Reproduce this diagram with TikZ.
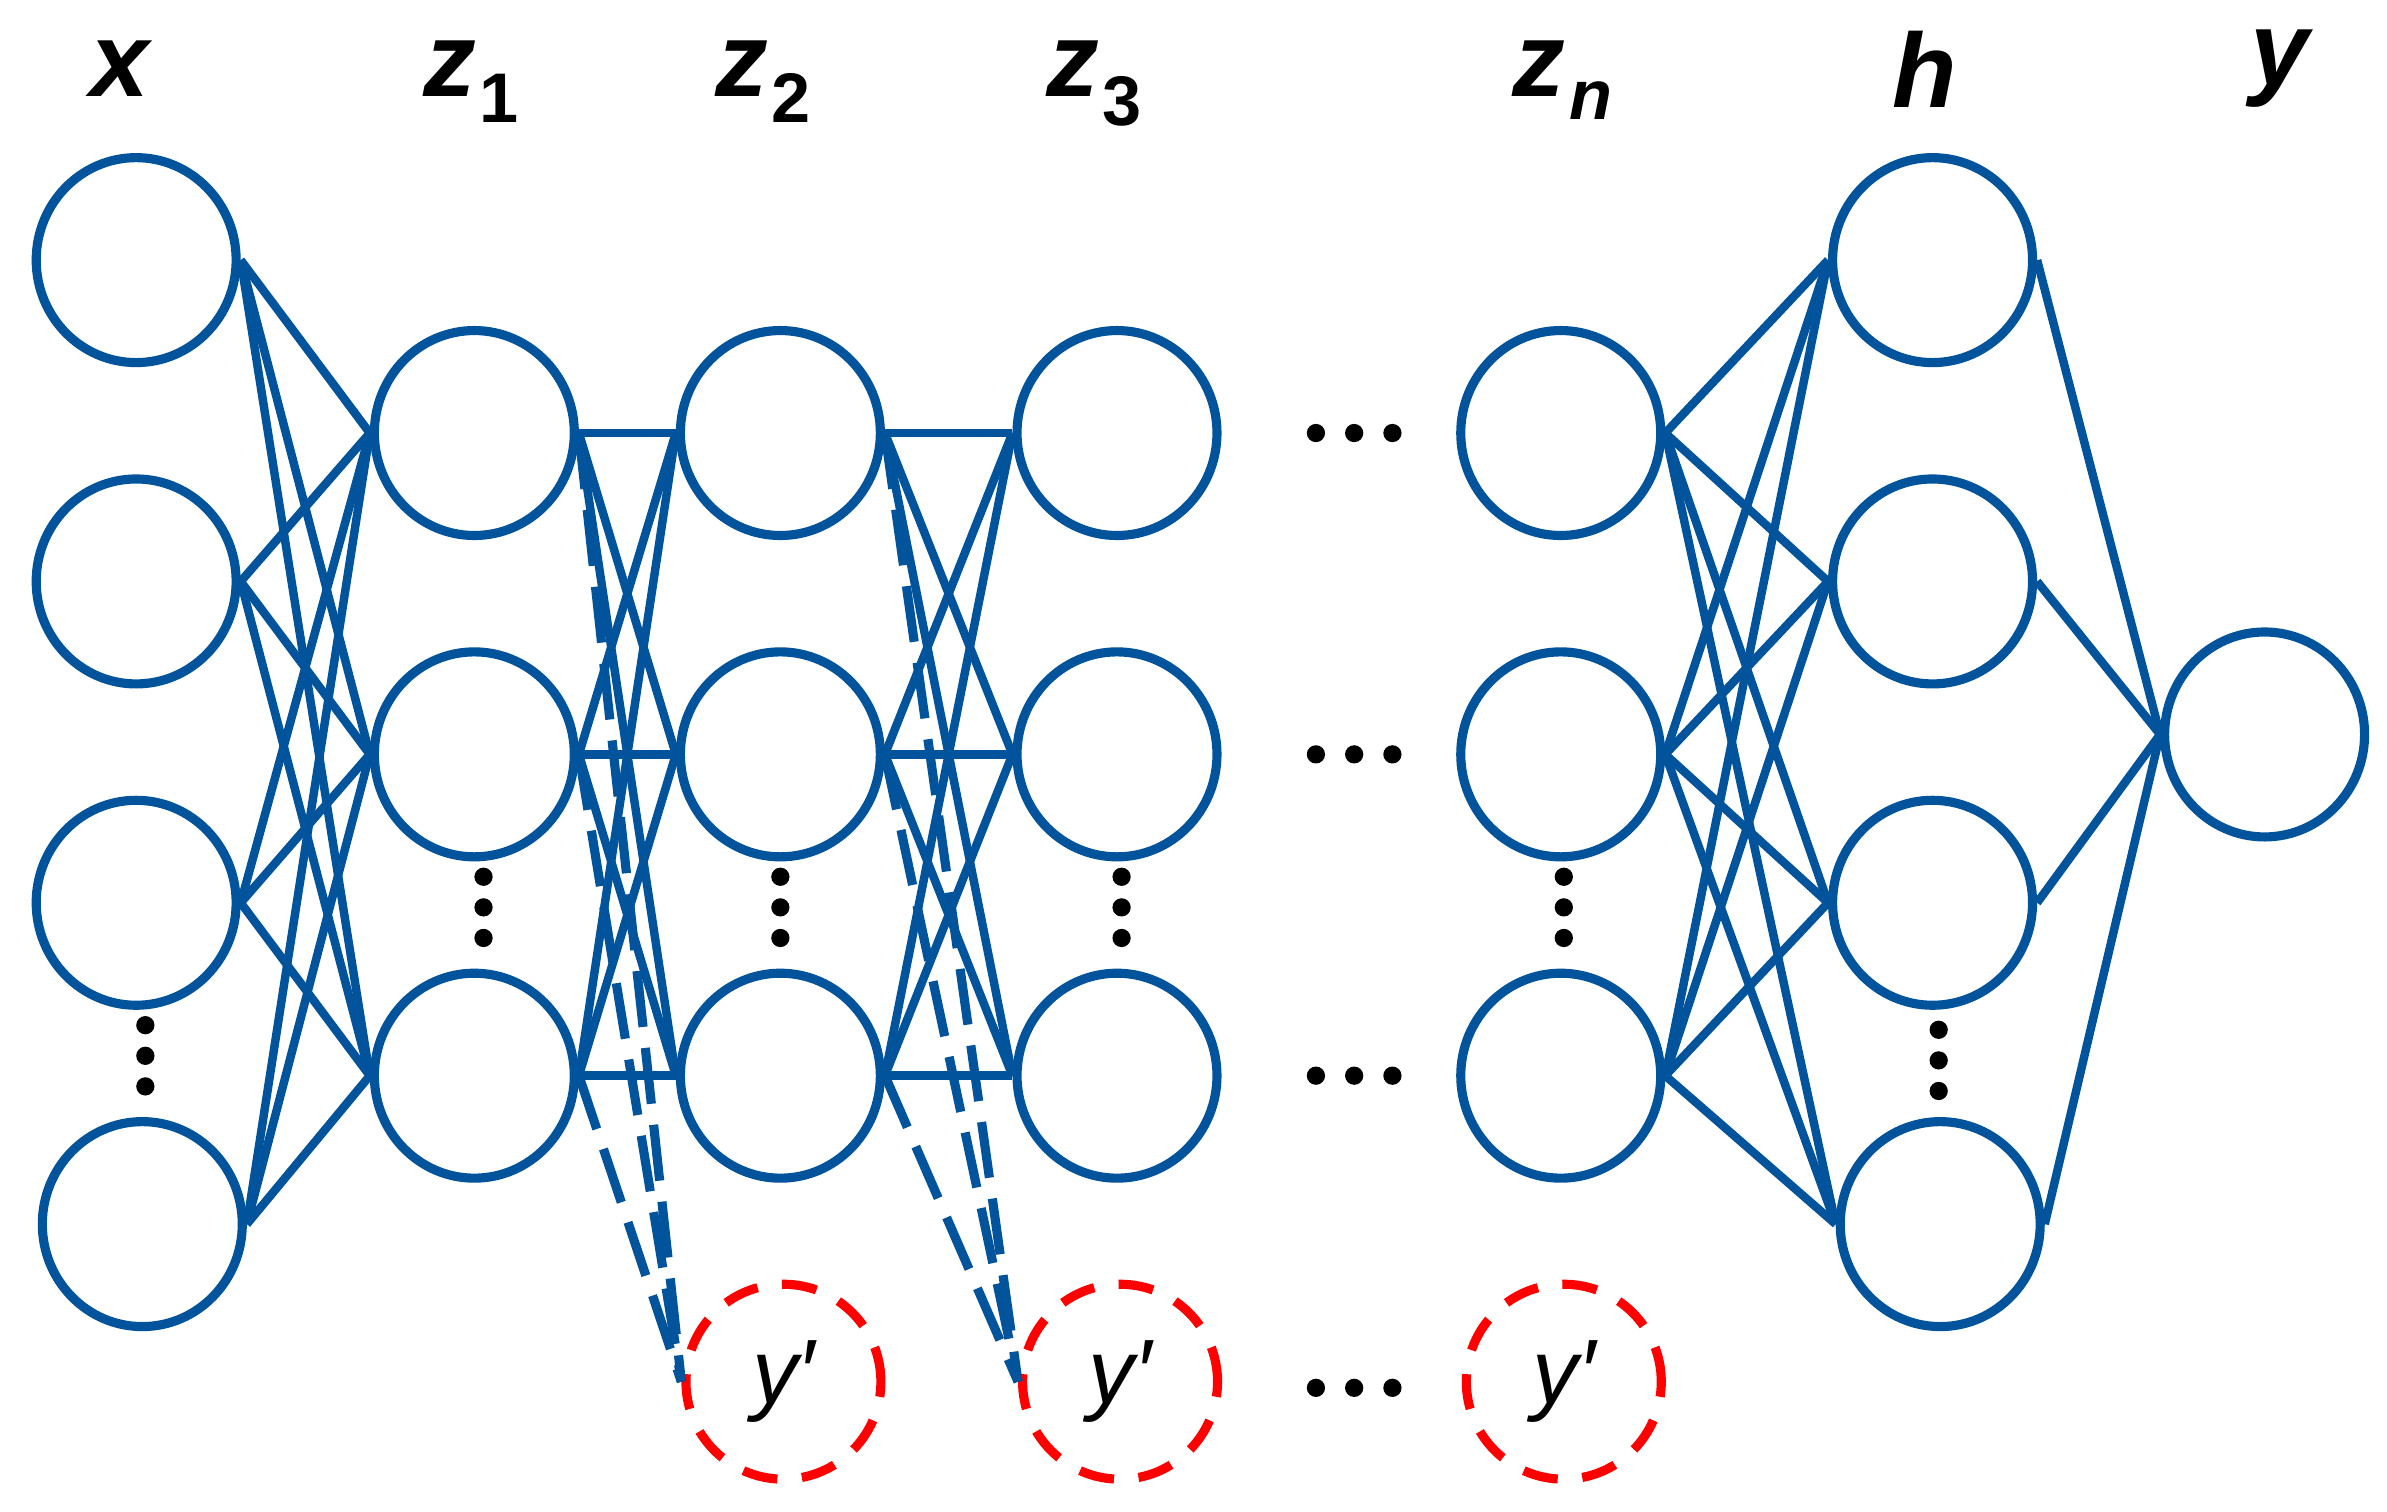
\documentclass[tikz,border=0pt]{standalone}
\usepackage{fontspec}
\setmainfont{Liberation Sans}
\usetikzlibrary{shapes.geometric}
\definecolor{nb}{RGB}{1,83,155}
\begin{document}
\begin{tikzpicture}[x=0.0153cm,y=-0.0153cm,
 n/.style={ellipse,draw=nb,line width=2.6pt,minimum width=2cm,minimum height=2.05cm,inner sep=0},
 r/.style={circle,draw=red,line width=2.6pt,dash pattern=on 10pt off 7pt,minimum size=1.95cm,inner sep=0,font=\fontsize{26}{28}\selectfont\itshape},
 e/.style={draw=nb,line width=2.4pt},
 d/.style={draw=nb,line width=2.6pt,dash pattern=on 16pt off 6pt},
 lab/.style={font=\fontsize{30}{32}\selectfont\bfseries\itshape},
 hd/.style={font=\fontsize{20}{22}\selectfont\bfseries}]
\useasboundingbox (0,0) rectangle (1560,988);
\node[n] (x1) at (89,170) {}; \node[n] (x2) at (89,380) {};
\node[n] (x3) at (89,590) {}; \node[n] (x4) at (93,800) {};
\foreach \c/\xx in {a/310,b/510,c/730,n/1020}{
 \node[n] (\c1) at (\xx,283) {}; \node[n] (\c2) at (\xx,493) {}; \node[n] (\c3) at (\xx,703) {};}
\node[n] (h1) at (1263,170) {}; \node[n] (h2) at (1263,380) {};
\node[n] (h3) at (1263,590) {}; \node[n] (h4) at (1268,800) {};
\node[n] (y) at (1480,480) {};
\node[r] (p1) at (512,903) {y′}; \node[r] (p2) at (732,903) {y′}; \node[r] (p3) at (1022,903) {y′};
% labels
\node[lab] (lx) at (78,45) {x};
\node[lab] (l1) at (294,45) {z}; \node[hd] (s1) at (326,64) {1};
\node[lab] (l2) at (485,45) {z}; \node[hd] (s2) at (517,64) {2};
\node[lab] (l3) at (701,45) {z}; \node[hd] (s3) at (733,66) {3};
\node[lab] (ln) at (1006,45) {z}; \node[hd,font=\fontsize{20}{22}\selectfont\bfseries\itshape] (sn) at (1040,66) {n};
\node[lab] (lh) at (1258,45) {h};
\node[lab] (ly) at (1490,45) {y};
% horizontal dots
\foreach \yy in {283,493,703,907}{
 \foreach \dd in {-25,0,25}{\fill (885+\dd,\yy) circle (2.6pt);}}
% vertical dots
\foreach \xx/\yy in {95/690,316/593,510/593,733/593,1022/593,1267/693}{
 \foreach \dd in {-20,0,20}{\fill (\xx,\yy+\dd) circle (2.6pt);}}
% edges
\foreach \i in {1,...,4}{\foreach \j in {1,2,3}{\draw[e] (x\i.east) -- (a\j.west);}}
\foreach \i in {1,2,3}{\foreach \j in {1,2,3}{
 \draw[e] (a\i.east) -- (b\j.west); \draw[e] (b\i.east) -- (c\j.west);}}
\foreach \i in {1,2,3}{\foreach \j in {1,...,4}{\draw[e] (n\i.east) -- (h\j.west);}}
\foreach \j in {1,...,4}{\draw[e] (h\j.east) -- (y.west);}
\foreach \i in {1,2,3}{\draw[d] (a\i.east) -- (p1.west); \draw[d] (b\i.east) -- (p2.west);}
\end{tikzpicture}
\end{document}
